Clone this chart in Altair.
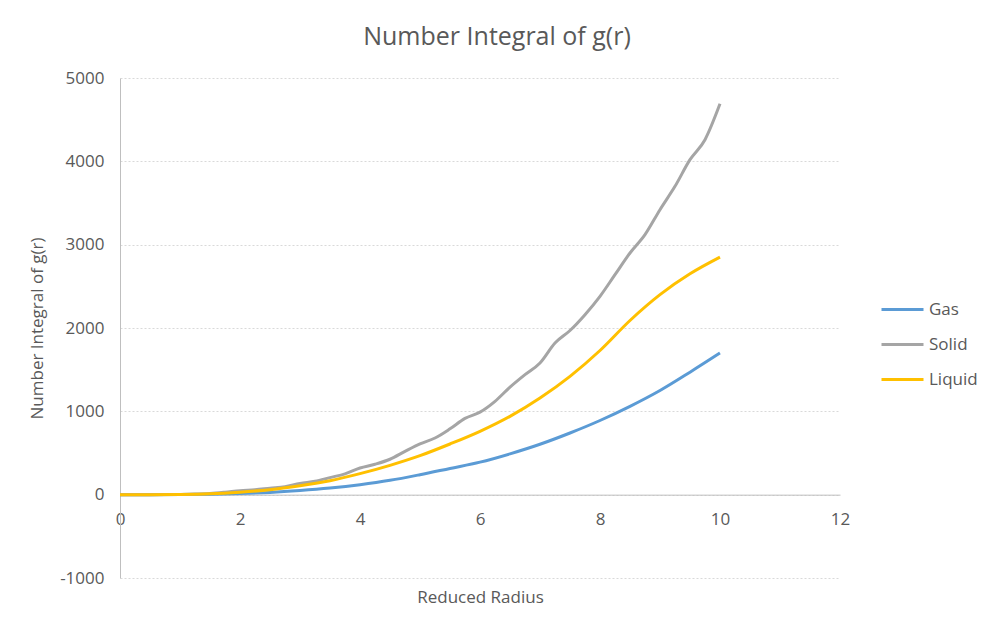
import altair as alt
import pandas as pd

# Gas and Liquid read at steps of 0.5 in reduced radius
r_half = [0, 0.5, 1, 1.5, 2, 2.5, 3, 3.5, 4, 4.5, 5, 5.5, 6, 6.5, 7, 7.5, 8, 8.5, 9, 9.5, 10]
gas = [0, 0, 1, 5, 13, 27, 50, 80, 120, 172, 240, 315, 390, 490, 605, 740, 890, 1060, 1250, 1470, 1700]
liquid = [0, 0, 2, 10, 30, 60, 108, 168, 252, 352, 468, 608, 760, 940, 1160, 1420, 1730, 2090, 2400, 2650, 2850]

# Solid read at steps of 0.25
r_quarter = [0, 0.25, 0.5, 0.75, 1, 1.25, 1.5, 1.75, 2, 2.25, 2.5, 2.75, 3, 3.25, 3.5, 3.75,
             4, 4.25, 4.5, 4.75, 5, 5.25, 5.5, 5.75, 6, 6.25, 6.5, 6.75, 7, 7.25, 7.5, 7.75,
             8, 8.25, 8.5, 8.75, 9, 9.25, 9.5, 9.75, 10]
solid = [0, 0, 0, 1, 3, 7, 15, 30, 48, 60, 78, 95, 135, 160, 205, 250,
         320, 365, 425, 520, 610, 680, 790, 915, 990, 1120, 1290, 1440, 1580, 1820, 1970, 2160,
         2380, 2640, 2900, 3120, 3420, 3700, 4020, 4260, 4690]

series_names = ["Gas", "Solid", "Liquid"]
series_colors = ["#5B9BD5", "#A5A5A5", "#FFC000"]

df_gas = pd.DataFrame({"r": r_half, "v": gas, "series": "Gas"})
df_solid = pd.DataFrame({"r": r_quarter, "v": solid, "series": "Solid"})
df_liquid = pd.DataFrame({"r": r_half, "v": liquid, "series": "Liquid"})

FONT = "Open Sans"
TXT = "#595959"

x_enc = alt.X(
    "r:Q",
    scale=alt.Scale(domain=[0, 12], nice=False),
    axis=alt.Axis(
        title="Reduced Radius",
        values=[0, 2, 4, 6, 8, 10, 12],
        labelExpr="'' + datum.value",
        grid=False,
        ticks=False,
        offset=-83.333,
        domainColor="#BFBFBF",
        domainWidth=1,
        labelFlush=False,
        labelPadding=17,
        titlePadding=62,
    ),
)
y_enc = alt.Y(
    "v:Q",
    scale=alt.Scale(domain=[-1000, 5000], nice=False),
    axis=alt.Axis(
        title="Number Integral of g(r)",
        values=[-1000, 0, 1000, 2000, 3000, 4000, 5000],
        labelExpr="'' + datum.value",
        grid=True,
        gridColor="#D9D9D9",
        gridDash=[2, 2],
        ticks=False,
        domainColor="#BFBFBF",
        labelPadding=16,
        titlePadding=13,
    ),
)
color_enc = alt.Color(
    "series:N",
    scale=alt.Scale(domain=series_names, range=series_colors),
    legend=alt.Legend(
        title=None,
        orient="none",
        legendX=760,
        legendY=209,
        symbolType="stroke",
        symbolSize=1764,
        symbolStrokeWidth=3,
        rowPadding=4,
        labelOffset=4,
        padding=0,
    ),
)

def line(df):
    return alt.Chart(df).mark_line(strokeWidth=3, interpolate="monotone").encode(
        x=x_enc, y=y_enc, color=color_enc
    )

chart = (
    alt.layer(line(df_gas), line(df_solid), line(df_liquid))
    .properties(
        width=720,
        height=500,
        title=alt.TitleParams(
            "Number Integral of g(r)",
            fontSize=25,
            font=FONT,
            color=TXT,
            fontWeight="normal",
            anchor="middle",
            dx=17,
            offset=19,
        ),
        autosize=alt.AutoSizeParams(type="none"),
        padding={"left": 112, "top": 70, "right": 146, "bottom": 48},
    )
    .configure_view(stroke=None)
    .configure_axis(
        labelFont=FONT,
        labelFontSize=17,
        labelColor=TXT,
        titleFont=FONT,
        titleFontSize=17,
        titleColor=TXT,
        titleFontWeight="normal",
    )
    .configure_legend(
        labelFont=FONT,
        labelFontSize=17,
        labelColor=TXT,
    )
)

chart.save("out.html", embed_options={"renderer": "svg", "actions": False})
